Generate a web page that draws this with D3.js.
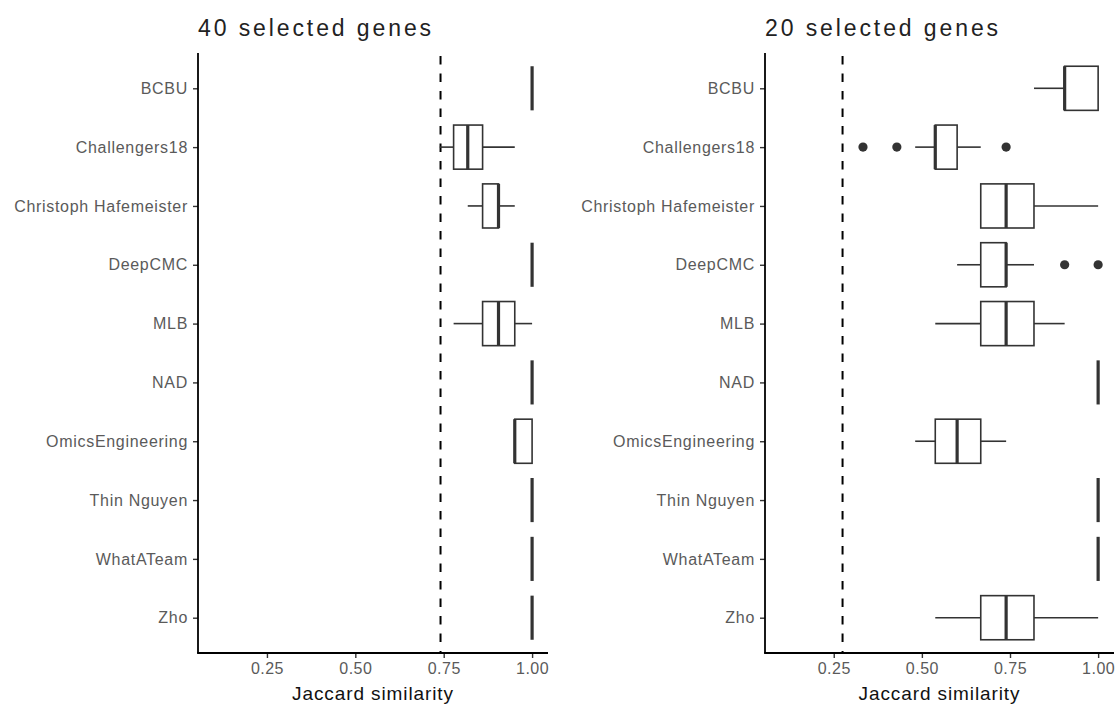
<!DOCTYPE html>
<html>
<head>
<meta charset="utf-8">
<script src="https://cdn.jsdelivr.net/npm/d3@7"></script>
<style>
  html, body { margin: 0; padding: 0; background: #fff; }
  svg { display: block; font-family: "Liberation Sans", Arial, Helvetica, sans-serif; }
</style>
</head>
<body>
<svg id="chart" width="1120" height="704"></svg>
<script>
// Teams, top to bottom
const teams = ["BCBU", "Challengers18", "Christoph Hafemeister", "DeepCMC", "MLB",
               "NAD", "OmicsEngineering", "Thin Nguyen", "WhatATeam", "Zho"];

// 40 selected genes: box-plot summaries of Jaccard similarity
const lo40  = [1, 0.739, 0.818, 1, 0.778, 1, 0.951, 1, 1, 1];
const q1_40 = [1, 0.778, 0.860, 1, 0.860, 1, 0.951, 1, 1, 1];
const med40 = [1, 0.818, 0.905, 1, 0.905, 1, 0.951, 1, 1, 1];
const q3_40 = [1, 0.860, 0.905, 1, 0.951, 1, 1.000, 1, 1, 1];
const hi40  = [1, 0.951, 0.951, 1, 1.000, 1, 1.000, 1, 1, 1];
const outTeam40 = [];
const outVal40  = [];
const ref40 = 0.741;

// 20 selected genes
const lo20  = [0.818, 0.481, 0.667, 0.600, 0.538, 1, 0.481, 1, 1, 0.538];
const q1_20 = [0.905, 0.538, 0.667, 0.667, 0.667, 1, 0.538, 1, 1, 0.667];
const med20 = [0.905, 0.538, 0.739, 0.739, 0.739, 1, 0.600, 1, 1, 0.739];
const q3_20 = [1.000, 0.600, 0.818, 0.739, 0.818, 1, 0.667, 1, 1, 0.818];
const hi20  = [1.000, 0.667, 1.000, 0.818, 0.905, 1, 0.739, 1, 1, 1.000];
const outTeam20 = ["Challengers18", "Challengers18", "Challengers18", "DeepCMC", "DeepCMC"];
const outVal20  = [0.333, 0.429, 0.739, 0.905, 1.000];
const ref20 = 0.275;

const xTicks = [0.25, 0.50, 0.75, 1.00];
const xDomain = [0.055, 1.045];

const svg = d3.select("#chart");
const panelTop = 53, panelBottom = 653;
const ink = "#333333";
const labelInk = "#5a5a5a";

function drawPanel(opt) {
  const g = svg.append("g");
  const x = d3.scaleLinear().domain(xDomain).range([opt.left, opt.right]);
  const y = d3.scalePoint().domain(teams).range([panelTop, panelBottom]).padding(0.6);
  const boxH = y.step() * 0.75;

  // title
  g.append("text")
    .attr("x", opt.left).attr("y", 36)
    .attr("font-size", 23).attr("letter-spacing", 2.9)
    .attr("fill", "#222")
    .text(opt.title);

  // reference line
  g.append("line")
    .attr("x1", x(opt.ref)).attr("x2", x(opt.ref))
    .attr("y1", panelTop + 3).attr("y2", panelBottom)
    .attr("stroke", "#000").attr("stroke-width", 2)
    .attr("stroke-dasharray", "8.5,9");

  const rows = teams.map((t, i) => ({
    t, lo: opt.lo[i], q1: opt.q1[i], med: opt.med[i], q3: opt.q3[i], hi: opt.hi[i]
  }));

  const b = g.append("g").selectAll("g").data(rows).join("g");
  // whiskers
  b.append("line")
    .attr("x1", d => x(d.lo)).attr("x2", d => x(d.q1))
    .attr("y1", d => y(d.t)).attr("y2", d => y(d.t))
    .attr("stroke", ink).attr("stroke-width", 1.6);
  b.append("line")
    .attr("x1", d => x(d.q3)).attr("x2", d => x(d.hi))
    .attr("y1", d => y(d.t)).attr("y2", d => y(d.t))
    .attr("stroke", ink).attr("stroke-width", 1.6);
  // box
  b.append("rect")
    .attr("x", d => x(d.q1)).attr("width", d => x(d.q3) - x(d.q1))
    .attr("y", d => y(d.t) - boxH / 2).attr("height", boxH)
    .attr("fill", "#fff").attr("stroke", ink).attr("stroke-width", 1.6);
  // median
  b.append("line")
    .attr("x1", d => x(d.med)).attr("x2", d => x(d.med))
    .attr("y1", d => y(d.t) - boxH / 2).attr("y2", d => y(d.t) + boxH / 2)
    .attr("stroke", ink).attr("stroke-width", 3.2).attr("stroke-linecap", "butt");

  // outliers
  g.append("g").selectAll("circle")
    .data(opt.outTeam.map((t, i) => ({ t, v: opt.outVal[i] })))
    .join("circle")
    .attr("cx", d => x(d.v)).attr("cy", d => y(d.t)).attr("r", 4.6)
    .attr("fill", ink);

  // axes (ticks and labels from d3, axis lines drawn separately)
  const xa = g.append("g").attr("transform", `translate(0,${panelBottom})`)
    .call(d3.axisBottom(x).tickValues(xTicks).tickFormat(d3.format(".2f"))
      .tickSizeOuter(0).tickSize(5).tickPadding(5));
  xa.select(".domain").remove();
  xa.selectAll(".tick line").attr("stroke", "#333").attr("stroke-width", 1.4);
  xa.selectAll(".tick text").attr("fill", labelInk).attr("font-size", 16)
    .attr("letter-spacing", 0.5).attr("font-family", null);

  const ya = g.append("g").attr("transform", `translate(${opt.left},0)`)
    .call(d3.axisLeft(y).tickSizeOuter(0).tickSize(5).tickPadding(5));
  ya.select(".domain").remove();
  ya.selectAll(".tick line").attr("stroke", "#333").attr("stroke-width", 1.4);
  ya.selectAll(".tick text").attr("fill", labelInk).attr("font-size", 16)
    .attr("letter-spacing", 0.7).attr("font-family", null);

  g.append("line")
    .attr("x1", opt.left).attr("x2", opt.left)
    .attr("y1", panelTop).attr("y2", panelBottom)
    .attr("stroke", "#000").attr("stroke-width", 1.8);
  g.append("line")
    .attr("x1", opt.left - 0.9).attr("x2", opt.right)
    .attr("y1", panelBottom).attr("y2", panelBottom)
    .attr("stroke", "#000").attr("stroke-width", 1.8);

  // x axis title
  g.append("text")
    .attr("x", (opt.left + opt.right) / 2).attr("y", 700)
    .attr("text-anchor", "middle")
    .attr("font-size", 19).attr("letter-spacing", 0.9)
    .attr("fill", "#111")
    .text("Jaccard similarity");
}

drawPanel({ title: "40 selected genes", left: 198, right: 548, ref: ref40,
  lo: lo40, q1: q1_40, med: med40, q3: q3_40, hi: hi40, outTeam: outTeam40, outVal: outVal40 });
drawPanel({ title: "20 selected genes", left: 765, right: 1114, ref: ref20,
  lo: lo20, q1: q1_20, med: med20, q3: q3_20, hi: hi20, outTeam: outTeam20, outVal: outVal20 });
</script>
</body>
</html>
